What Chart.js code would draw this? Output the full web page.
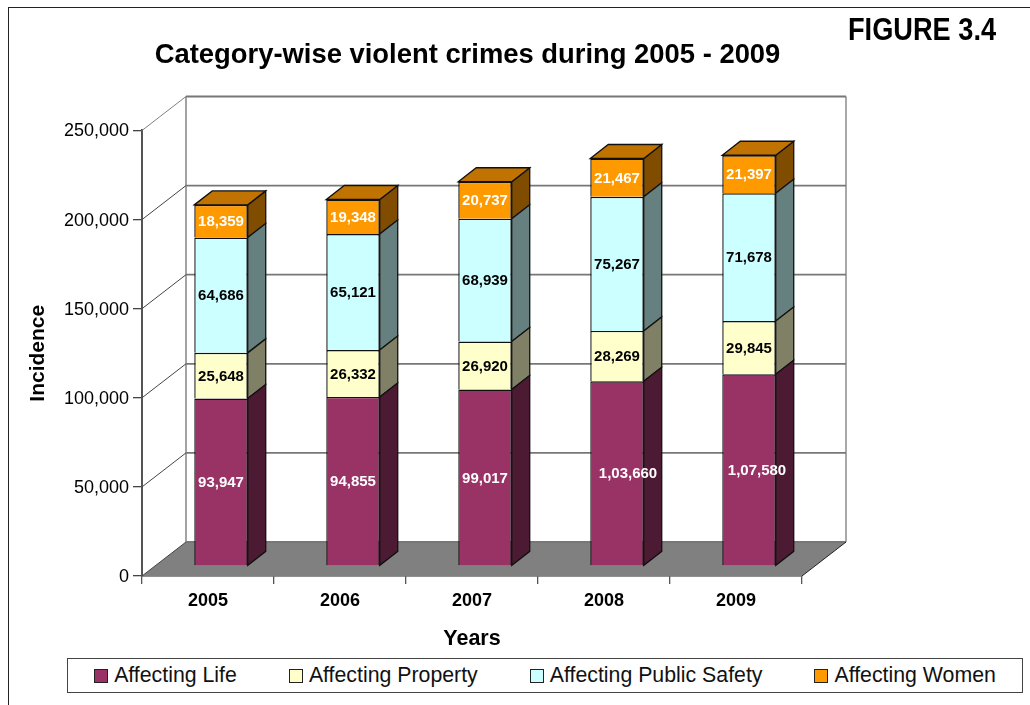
<!DOCTYPE html>
<html>
<head>
<meta charset="utf-8">
<title>Category-wise violent crimes</title>
<script src="https://cdn.jsdelivr.net/npm/chart.js@4"></script>
<style>
    html, body { margin: 0; padding: 0; background: #fff; overflow: hidden; }
    #wrap { position: relative; width: 1030px; height: 705px; overflow: hidden; font-family: "Liberation Sans", Arial, sans-serif; }
    #frame { position: absolute; left: 8px; top: 7px; width: 1200px; height: 900px; border: 1.5px solid #222; }
    #figure { position: absolute; left: 848px; top: 10px; font: bold 32px "Liberation Sans", sans-serif; line-height: 38px; color: #000; white-space: nowrap; transform: scaleX(0.85); transform-origin: left top; }
    #legend { position: absolute; left: 67px; top: 658px; width: 954px; height: 33px; border: 1.3px solid #444; display: flex; justify-content: center; align-items: center; gap: 52px; font-size: 21.3px; color: #111; background: #fff; }
    #legend .item { display: flex; align-items: center; white-space: nowrap; }
    #legend .swatch { width: 12px; height: 12px; border: 1px solid #222; margin-right: 6px; }
    canvas { position: absolute; left: 0; top: 0; }
</style>
</head>
<body>
<div id="wrap">
    <canvas id="chart" width="1030" height="705"></canvas>
    <div id="frame"></div>
    <div id="figure">FIGURE 3.4</div>
    <div id="legend"></div>
</div>
<script>
const years = ['2005', '2006', '2007', '2008', '2009'];
const yTicks = [0, 50000, 100000, 150000, 200000, 250000];

const affectingLife = [93947, 94855, 99017, 103660, 107580];
const affectingProperty = [25648, 26332, 26920, 28269, 29845];
const affectingPublicSafety = [64686, 65121, 68939, 75267, 71678];
const affectingWomen = [18359, 19348, 20737, 21467, 21397];

const seriesNames = ['Affecting Life', 'Affecting Property', 'Affecting Public Safety', 'Affecting Women'];
const seriesValues = [affectingLife, affectingProperty, affectingPublicSafety, affectingWomen];
const frontColors = ['#993366', '#FFFFCC', '#CCFFFF', '#FF9900'];
const sideColors = ['#4D1A33', '#808066', '#668080', '#804D00'];
const topColors = ['#733', '#BFBF99', '#99BFBF', '#C07300'];
const labelColors = ['#fff', '#000', '#000', '#fff'];

// box depth of the whole plot, and of a single bar
const wallDx = 44, wallDy = 34;
const barDx = 18, barDy = 14;
const barOffsetX = 13, barOffsetY = 10;

// the two six-digit labels run off the front face in the original
function labelShift(series, index) {
    if (series !== 0) return 0;
    return index === 3 ? 11 : index === 4 ? 8 : 0;
}

function polygon(ctx, points, fill, stroke, lineWidth) {
    ctx.beginPath();
    points.forEach((p, i) => i ? ctx.lineTo(p[0], p[1]) : ctx.moveTo(p[0], p[1]));
    ctx.closePath();
    if (fill) { ctx.fillStyle = fill; ctx.fill(); }
    if (stroke) { ctx.strokeStyle = stroke; ctx.lineWidth = lineWidth; ctx.stroke(); }
}

function line(ctx, x1, y1, x2, y2, color, width) {
    ctx.beginPath();
    ctx.moveTo(x1, y1);
    ctx.lineTo(x2, y2);
    ctx.strokeStyle = color;
    ctx.lineWidth = width;
    ctx.stroke();
}

const box3d = {
    id: 'box3d',
    afterLayout(chart) {
        // title is centred over the frame, not over the canvas
        chart.titleBlock.left = 9;
        chart.titleBlock.right = 926;
        // y tick text sits a pixel lower than canvas "middle" puts it
        chart.scales.y.getLabelItems().forEach(item => { item.options.translation[1] += 1; });
    },
    beforeDatasetsDraw(chart) {
        const { ctx, chartArea: a, scales: { y } } = chart;
        ctx.save();
        // floor
        polygon(ctx, [[a.left, a.bottom], [a.left + wallDx, a.bottom - wallDy], [a.right + wallDx, a.bottom - wallDy], [a.right, a.bottom]], '#808080');
        // back wall edges
        line(ctx, a.left + wallDx, a.top - wallDy, a.left + wallDx, a.bottom - wallDy, '#999', 1.8);
        line(ctx, a.right + wallDx, a.top - wallDy, a.right + wallDx, a.bottom - wallDy, '#a0a0a0', 1.8);
        // grid on the wall and on the left side
        yTicks.forEach(v => {
            const py = y.getPixelForValue(v);
            line(ctx, a.left + wallDx, py - wallDy, a.right + wallDx, py - wallDy, '#777', 1.8);
            line(ctx, a.left, py, a.left + wallDx, py - wallDy, v === 250000 ? '#808080' : '#444', 1);
        });
        line(ctx, a.right, a.bottom, a.right + wallDx, a.bottom - wallDy, '#222', 1);
        ctx.restore();
    },
    beforeDatasetDraw(chart, args) {
        const { ctx } = chart;
        const i = args.index;
        ctx.save();
        ctx.translate(barOffsetX, -barOffsetY);
        chart.getDatasetMeta(i).data.forEach(bar => {
            const right = bar.x + bar.width / 2;
            const left = bar.x - bar.width / 2;
            polygon(ctx, [[right, bar.y], [right + barDx, bar.y - barDy], [right + barDx, bar.base - barDy], [right, bar.base]], sideColors[i], '#111', 1.3);
            if (i === seriesValues.length - 1) {
                polygon(ctx, [[left, bar.y], [left + barDx, bar.y - barDy], [right + barDx, bar.y - barDy], [right, bar.y]], topColors[i], '#111', 1.3);
            }
        });
    },
    afterDatasetDraw(chart) {
        chart.ctx.restore();
    },
    afterDatasetsDraw(chart) {
        const { ctx } = chart;
        ctx.save();
        ctx.translate(barOffsetX, -barOffsetY);
        ctx.font = 'bold 15px "Liberation Sans", Arial, sans-serif';
        ctx.textAlign = 'center';
        ctx.textBaseline = 'middle';
        seriesValues.forEach((values, i) => {
            ctx.fillStyle = labelColors[i];
            chart.getDatasetMeta(i).data.forEach((bar, j) => {
                ctx.fillText(values[j].toLocaleString('en-IN'), bar.x + labelShift(i, j), (bar.y + bar.base) / 2 + 1);
            });
        });
        ctx.restore();
    }
};

Chart.defaults.font.family = '"Liberation Sans", Arial, sans-serif';
Chart.defaults.color = '#000';

const chart = new Chart(document.getElementById('chart'), {
    type: 'bar',
    data: {
        labels: years,
        datasets: seriesNames.map((name, i) => ({
            label: name,
            data: seriesValues[i],
            backgroundColor: frontColors[i],
            borderColor: '#111',
            borderWidth: 1.4,
            clip: false
        }))
    },
    options: {
        responsive: false,
        animation: false,
        events: [],
        layout: { padding: { left: 26, right: 228, top: 0, bottom: 53 } },
        datasets: { bar: { categoryPercentage: 1, barPercentage: 0.405 } },
        scales: {
            x: {
                stacked: true,
                afterFit(scale) { scale.height = 76; },
                grid: { drawOnChartArea: false, color: '#555', lineWidth: 1.3, tickLength: 8 },
                border: { color: '#222', width: 1.5 },
                ticks: { font: { size: 18, weight: 'bold' }, padding: 6, maxRotation: 0 },
                title: { display: true, text: 'Years', font: { size: 21.5, weight: 'bold' }, padding: 0 }
            },
            y: {
                stacked: true,
                min: 0,
                max: 250000,
                afterFit(scale) { scale.width = 116; },
                afterBuildTicks(scale) { scale.ticks = yTicks.map(v => ({ value: v })); },
                grid: { drawOnChartArea: false, color: '#444', lineWidth: 1.3, tickLength: 9 },
                border: { color: '#555', width: 2 },
                ticks: {
                    font: { size: 18 },
                    padding: 4,
                    callback: v => v.toLocaleString('en-US')
                },
                title: { display: true, text: 'Incidence', font: { size: 21, weight: 'bold' }, padding: 0 }
            }
        },
        plugins: {
            legend: { display: false },
            tooltip: { enabled: false },
            title: {
                display: true,
                text: 'Category-wise violent crimes during 2005 - 2009',
                font: { size: 27.4, weight: 'bold' },
                color: '#000',
                padding: { top: 38.6, bottom: 59 }
            }
        }
    },
    plugins: [box3d]
});

// legend box sits below the chart frame, built from the chart's own datasets
const legendEl = document.getElementById('legend');
chart.data.datasets.forEach(ds => {
    const item = document.createElement('div');
    item.className = 'item';
    const swatch = document.createElement('span');
    swatch.className = 'swatch';
    swatch.style.background = ds.backgroundColor;
    item.appendChild(swatch);
    item.appendChild(document.createTextNode(ds.label));
    legendEl.appendChild(item);
});
</script>
</body>
</html>
